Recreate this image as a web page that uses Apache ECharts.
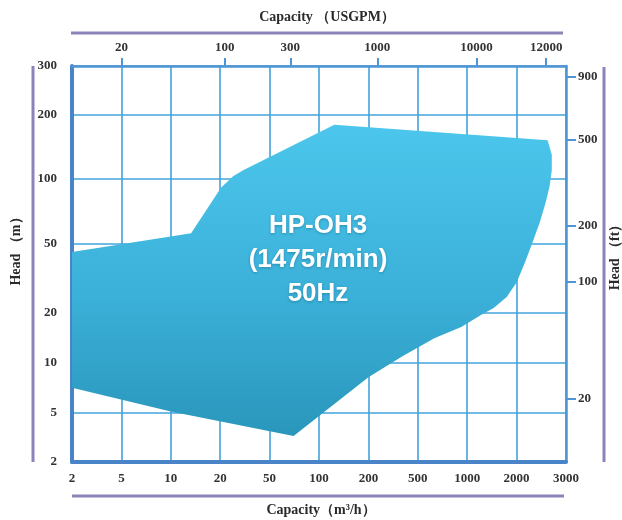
<!DOCTYPE html>
<html><head><meta charset="utf-8">
<script src="https://cdn.jsdelivr.net/npm/echarts@6/dist/echarts.min.js"></script>
<style>html,body{margin:0;padding:0;background:#fff}#c{width:622px;height:520px}</style>
</head><body><div id="c"></div>
<script>
// ---- data ----
const capTicks = [2, 5, 10, 20, 50, 100, 200, 500, 1000, 2000, 3000];   // m3/h (bottom)
const headTicks = [2, 5, 10, 20, 50, 100, 200, 300];                    // m (left)
const ftTicks = [20, 100, 200, 500, 900];                                // ft (right)
const usgpmTicks = [20, 100, 300, 1000, 10000, 12000];                   // USGPM (top)
const areaCapacity = [2, 13.3, 20.3, 25.4, 30.6, 124, 2580, 2670, 2670, 2620, 2540, 2420, 2280, 2140, 2000, 1740, 1450, 1220, 920, 630, 370, 200, 70, 10, 2];
const areaHead = [45, 56, 91, 103, 110, 180, 152, 130, 110, 92, 78, 63, 51, 39, 30, 24.7, 21.4, 19.5, 16.5, 14.1, 10.9, 8.2, 3.25, 5.1, 7.1];
const modelLines = ['HP-OH3', '(1475r/min)', '50Hz'];

// ---- layout constants (axis geometry of the printed chart) ----
const headSegSpan = [49, 50, 50, 69, 65, 64, 49];      // relative height of each head interval
const usgpmTickAt = [1.0, 3.09, 4.42, 6.18, 8.19, 9.60]; // where the USGPM labels sit on the capacity scale
const FT_TO_M = 0.3048;

const headCum = [0];
headSegSpan.forEach(s => headCum.push(headCum[headCum.length - 1] + s));
const headMax = headCum[headCum.length - 1];

function segFrac(v, ticks) {
  let k = 0;
  while (k < ticks.length - 2 && v > ticks[k + 1]) k++;
  return [k, Math.log(v / ticks[k]) / Math.log(ticks[k + 1] / ticks[k])];
}
function capToAxis(v) { const [k, f] = segFrac(v, capTicks); return k + f; }
function headToAxis(v) { const [k, f] = segFrac(v, headTicks); return headCum[k] + f * headSegSpan[k]; }

const pts = areaCapacity.map((c, i) => [capToAxis(c), headToAxis(areaHead[i])]);
const headPos = headTicks.map(headToAxis);
const ftPos = ftTicks.map(f => headToAxis(f * FT_TO_M));

function lookup(posArr, labels) {
  return function (v) {
    let best = 0, d = Infinity;
    posArr.forEach((p, i) => { const dd = Math.abs(p - v); if (dd < d) { d = dd; best = i; } });
    return String(labels[best]);
  };
}

const labelFont = { fontFamily: 'Liberation Serif', fontWeight: 'bold', fontSize: 13, color: '#333' };
const titleFont = { fontFamily: 'Liberation Serif', fontWeight: 'bold', fontSize: 14, fill: '#2a2a2a' };
const gridColor = '#42a3dc';
const axisColor = '#4a84c8';
const sideColor = '#4f95d4';
const purple = '#8c84b8';

const chart = echarts.init(document.getElementById('c'), null, { renderer: 'canvas' });
chart.setOption({
  animation: false,
  grid: { left: 72, right: 56, top: 66, bottom: 58, outerBoundsMode: 'none' },
  xAxis: [
    {
      type: 'value', position: 'bottom', min: 0, max: capTicks.length - 1, interval: 1,
      axisLine: { show: true, onZero: false, lineStyle: { color: axisColor, width: 4 } },
      axisTick: { show: false },
      axisLabel: Object.assign({ margin: 10, formatter: v => String(capTicks[Math.round(v)]) }, labelFont),
      splitLine: { show: true, lineStyle: { color: gridColor, width: 1.6 } }
    },
    {
      type: 'value', position: 'top', min: 0, max: capTicks.length - 1,
      axisLine: { show: true, onZero: false, lineStyle: { color: sideColor, width: 2.5 } },
      axisTick: { show: true, customValues: usgpmTickAt, length: 8, lineStyle: { color: sideColor, width: 2 } },
      axisLabel: Object.assign({ customValues: usgpmTickAt, margin: 12, formatter: lookup(usgpmTickAt, usgpmTicks) }, labelFont),
      splitLine: { show: false }
    }
  ],
  yAxis: [
    {
      type: 'value', position: 'left', min: 0, max: headMax,
      axisLine: { show: true, onZero: false, lineStyle: { color: axisColor, width: 4 } },
      axisTick: { show: false, customValues: headPos },
      axisLabel: Object.assign({ customValues: headPos, margin: 15, formatter: lookup(headPos, headTicks) }, labelFont),
      splitLine: { show: true, lineStyle: { color: gridColor, width: 1.6 } }
    },
    {
      type: 'value', position: 'right', min: 0, max: headMax,
      axisLine: { show: true, onZero: false, lineStyle: { color: sideColor, width: 2.5 } },
      axisTick: { show: true, customValues: ftPos, length: 10, lineStyle: { color: sideColor, width: 2 } },
      axisLabel: Object.assign({ customValues: ftPos, margin: 12, formatter: lookup(ftPos, ftTicks) }, labelFont),
      splitLine: { show: false }
    }
  ],
  series: [{
    type: 'custom',
    xAxisIndex: 0, yAxisIndex: 0,
    data: pts,
    encode: { x: 0, y: 1 },
    z: 5,
    renderItem: function (params, api) {
      if (params.dataIndex !== 0) return null;
      const poly = pts.map(p => api.coord(p));
      return {
        type: 'polygon',
        shape: { points: poly },
        style: {
          fill: new echarts.graphic.LinearGradient(0, 0, 0, 1, [
            { offset: 0, color: '#4cc6ec' },
            { offset: 0.55, color: '#3bb0d8' },
            { offset: 1, color: '#2a96bb' }
          ])
        }
      };
    }
  }],
  graphic: [
    { type: 'line', shape: { x1: 71, y1: 33, x2: 563, y2: 33 }, style: { stroke: purple, lineWidth: 3 }, silent: true },
    { type: 'line', shape: { x1: 72, y1: 496, x2: 564, y2: 496 }, style: { stroke: purple, lineWidth: 3 }, silent: true },
    { type: 'line', shape: { x1: 33, y1: 66, x2: 33, y2: 462 }, style: { stroke: purple, lineWidth: 3 }, silent: true },
    { type: 'line', shape: { x1: 604, y1: 67, x2: 604, y2: 462 }, style: { stroke: purple, lineWidth: 3 }, silent: true },
    { type: 'text', x: 327, y: 17, style: Object.assign({ text: 'Capacity （USGPM）', align: 'center', verticalAlign: 'middle' }, titleFont) },
    { type: 'text', x: 321, y: 510, style: Object.assign({ text: 'Capacity（m³/h）', align: 'center', verticalAlign: 'middle' }, titleFont) },
    { type: 'text', x: 16, y: 248, rotation: Math.PI / 2, style: Object.assign({ text: 'Head （m）', align: 'center', verticalAlign: 'middle' }, titleFont) },
    { type: 'text', x: 615, y: 254, rotation: Math.PI / 2, style: Object.assign({ text: 'Head （ft）', align: 'center', verticalAlign: 'middle' }, titleFont) },
    {
      type: 'text', x: 318, y: 260, z: 100,
      style: {
        text: modelLines.join('\n'), align: 'center', verticalAlign: 'middle',
        fontFamily: 'Liberation Sans', fontWeight: 'bold', fontSize: 26, lineHeight: 34,
        fill: '#ffffff', textShadowColor: 'rgba(0,60,90,0.35)', textShadowBlur: 3, textShadowOffsetY: 1
      }
    }
  ]
});
</script></body></html>
